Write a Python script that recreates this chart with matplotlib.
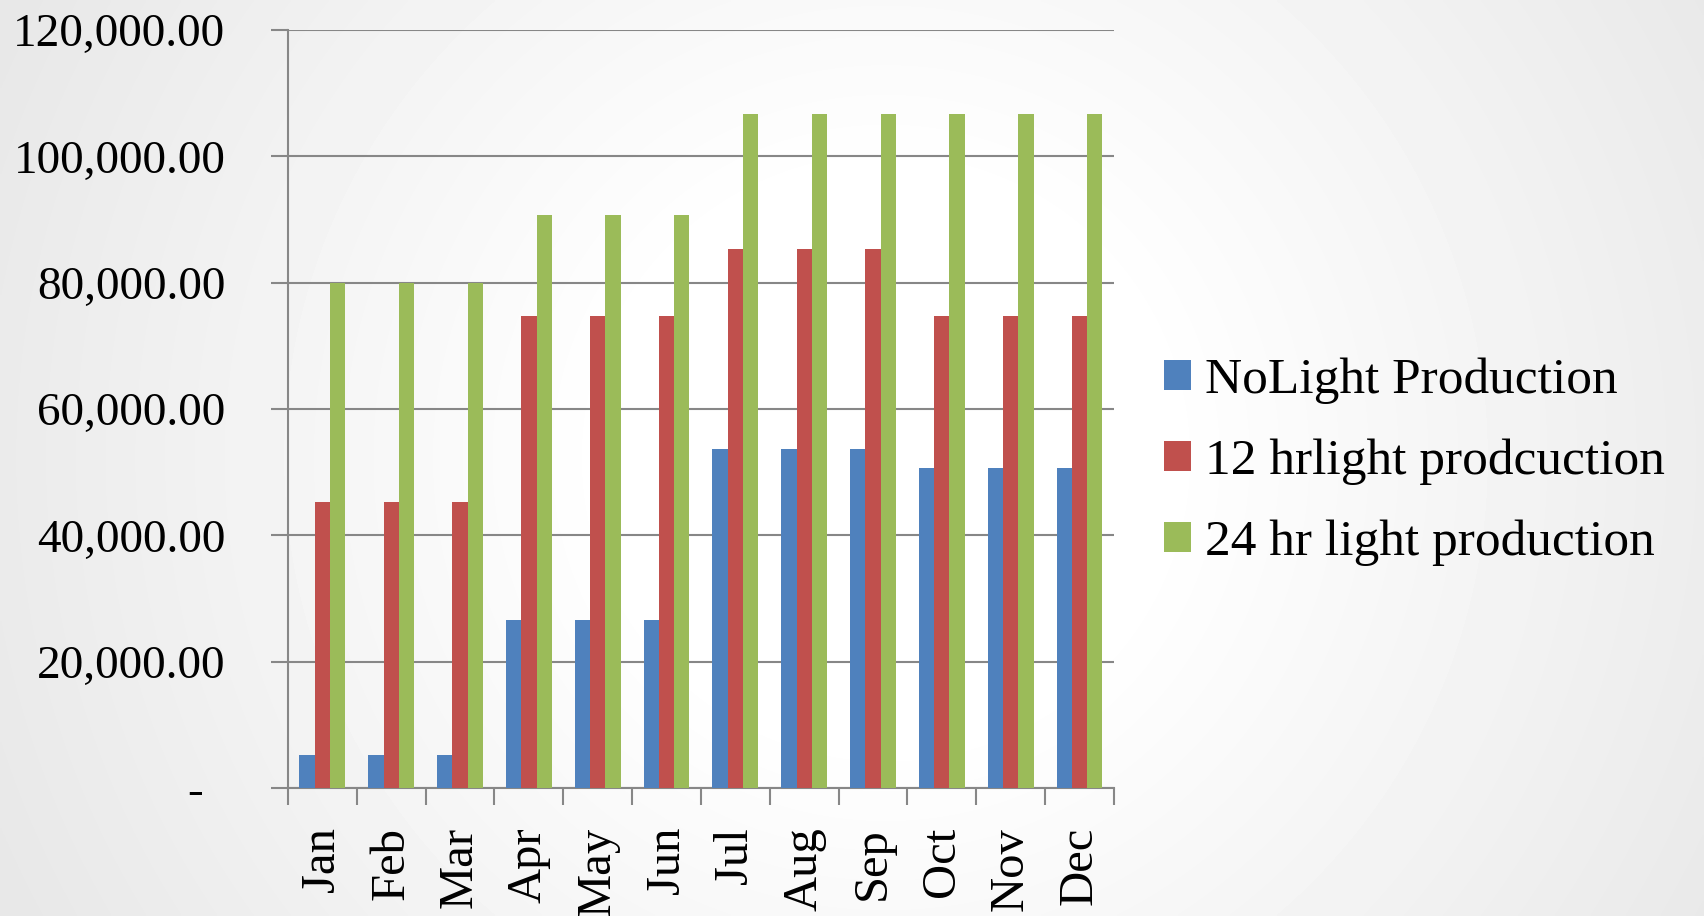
import numpy as np
import matplotlib
matplotlib.use('Agg')
import matplotlib.pyplot as plt
import matplotlib.transforms as mtransforms
from matplotlib.ticker import FixedLocator, FuncFormatter

months = ['Jan', 'Feb', 'Mar', 'Apr', 'May', 'Jun',
          'Jul', 'Aug', 'Sep', 'Oct', 'Nov', 'Dec']
series_names = ['NoLight Production', '12 hrlight prodcuction',
                '24 hr light production']
no_light = [5300, 5300, 5300, 26600, 26600, 26600,
            53600, 53600, 53600, 50700, 50700, 50700]
light_12hr = [45300, 45300, 45300, 74700, 74700, 74700,
              85400, 85400, 85400, 74700, 74700, 74700]
light_24hr = [80000, 80000, 80000, 90700, 90700, 90700,
              106700, 106700, 106700, 106700, 106700, 106700]
y_ticks = [0, 20000, 40000, 60000, 80000, 100000, 120000]

colors = ['#4F81BD', '#C0504D', '#9BBB59']
grid_col = '#878787'

plt.rcParams['font.family'] = ['Liberation Serif', 'DejaVu Serif']
FS = 34

fig = plt.figure(figsize=(17.04, 9.16), dpi=100)

# soft radial background like the slide
bg = fig.add_axes([0, 0, 1, 1], zorder=-10)
yy, xx = np.mgrid[0:1:300j, 0:1:560j]
r = np.sqrt(((xx - 0.52) * 1.86) ** 2 + (yy - 0.5) ** 2)
shade = 1.0 - 0.09 * np.clip((r - 0.3) / 0.75, 0, 1)
bg.imshow(shade, cmap='gray', vmin=0, vmax=1, aspect='auto',
          extent=[0, 1, 0, 1], interpolation='bilinear')
bg.axis('off')

ax = fig.add_axes([0.169, 0.1397, 0.4847, 0.8276])
ax.patch.set_alpha(0)

x = np.arange(len(months))
w = 0.222
for i, (vals, name) in enumerate(zip([no_light, light_12hr, light_24hr],
                                     series_names)):
    ax.bar(x + (i - 1) * w, vals, width=w, color=colors[i], label=name,
           zorder=3)

ax.set_xlim(-0.5, len(months) - 0.5)
ax.set_ylim(0, 120000)

ax.yaxis.set_major_locator(FixedLocator(y_ticks))
ax.yaxis.set_major_formatter(
    FuncFormatter(lambda v, p: '-' if v == 0 else f'{v:,.2f}'))
ax.grid(axis='y', color=grid_col, linewidth=1.5, zorder=1)
ax.tick_params(axis='y', direction='out', length=12, width=1.5,
               color=grid_col, pad=33, labelsize=FS, labelcolor='black')

ax.set_xticks(x)
ax.set_xticklabels(months, rotation=90, fontsize=FS + 1, va='top',
                   ha='center')
ax.set_xticks(np.arange(-0.5, len(months)), minor=True)
ax.tick_params(axis='x', which='major', length=0, pad=28)
ax.tick_params(axis='x', which='minor', direction='out', length=12,
               width=1.5, color=grid_col)

for side in ['top', 'right']:
    ax.spines[side].set_visible(False)
for side in ['left', 'bottom']:
    ax.spines[side].set_color(grid_col)
    ax.spines[side].set_linewidth(1.5)

# the accounting-style dash sits a little left of the other labels
shift = mtransforms.ScaledTranslation(-22 / 100, 0, fig.dpi_scale_trans)
for t in ax.get_yticklabels():
    if t.get_text() == '-':
        t.set_transform(t.get_transform() + shift)

fig.legend(loc='center left', bbox_to_anchor=(0.671, 0.496), frameon=False,
           fontsize=37, handlelength=0.52, handleheight=0.52,
           handletextpad=0.28, labelspacing=0.67, borderaxespad=0)

fig.savefig('out.png', dpi=100)
